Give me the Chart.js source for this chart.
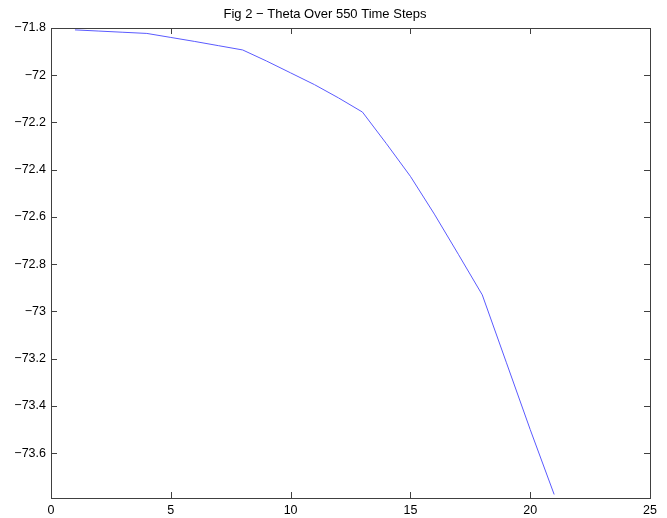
<!DOCTYPE html>
<html>
<head>
<meta charset="utf-8">
<script src="https://cdn.jsdelivr.net/npm/chart.js@4"></script>
<style>
  html, body { margin: 0; padding: 0; background: #fff; }
  #wrap { width: 667px; height: 518px; }
</style>
</head>
<body>
<div id="wrap"><canvas id="thetaChart" width="667" height="518"></canvas></div>
<script>
// time step index (x) and theta (y)
const steps = [1, 2, 3, 4, 5, 6, 7, 8, 9, 10, 11, 12, 13, 14, 15, 16, 17, 18, 19, 20, 21];
const theta = [-71.808, -71.813, -71.818, -71.823, -71.840, -71.857, -71.875, -71.893,
               -71.940, -71.990, -72.040, -72.096, -72.156, -72.290, -72.428, -72.588,
               -72.758, -72.930, -73.215, -73.500, -73.775];
const xTicks = [0, 5, 10, 15, 20, 25];
const yTicks = [-71.8, -72, -72.2, -72.4, -72.6, -72.8, -73, -73.2, -73.4, -73.6];
const titleText = 'Fig 2 \u2212 Theta Over 550 Time Steps';

const fontFamily = '"Liberation Sans", Arial, sans-serif';

// matlab style box with inward tick marks
const boxPlugin = {
    id: 'boxTicks',
    afterDraw(chart) {
        const { ctx, chartArea: a, scales } = chart;
        ctx.save();
        ctx.strokeStyle = '#404040';
        ctx.lineWidth = 1;
        ctx.strokeRect(Math.round(a.left) + 0.5, Math.round(a.top) + 0.5,
                       Math.round(a.right - a.left), Math.round(a.bottom - a.top));
        ctx.beginPath();
        const len = 6;
        xTicks.forEach(v => {
            const px = Math.round(scales.x.getPixelForValue(v)) + 0.5;
            ctx.moveTo(px, a.bottom); ctx.lineTo(px, a.bottom - len);
            ctx.moveTo(px, a.top); ctx.lineTo(px, a.top + len);
        });
        yTicks.forEach(v => {
            const py = Math.round(scales.y.getPixelForValue(v)) + 0.5;
            ctx.moveTo(a.left, py); ctx.lineTo(a.left + len, py);
            ctx.moveTo(a.right, py); ctx.lineTo(a.right - len, py);
        });
        ctx.stroke();
        ctx.restore();
    }
};

const ctx = document.getElementById('thetaChart').getContext('2d');
new Chart(ctx, {
    type: 'line',
    data: {
        datasets: [{
            data: steps.map((s, i) => ({ x: s, y: theta[i] })),
            borderColor: 'rgb(90, 90, 255)',
            borderWidth: 1,
            pointRadius: 0,
            tension: 0,
            fill: false
        }]
    },
    options: {
        responsive: false,
        animation: false,
        layout: { padding: { left: 0, right: 17, top: 0, bottom: 0 } },
        plugins: {
            legend: { display: false },
            tooltip: { enabled: false },
            title: {
                display: true,
                text: titleText,
                color: '#000',
                font: { family: fontFamily, size: 13, weight: 'normal' },
                padding: { top: 6.2, bottom: 6.2 }
            }
        },
        scales: {
            x: {
                type: 'linear',
                min: 0,
                max: 25,
                grid: { display: false, drawTicks: false },
                border: { display: false },
                afterBuildTicks: s => { s.ticks = xTicks.map(v => ({ value: v })); },
                afterFit: s => { s.height = 20; },
                ticks: {
                    color: '#000',
                    padding: 5,
                    maxRotation: 0,
                    font: { family: fontFamily, size: 12.5 },
                    callback: v => String(v)
                }
            },
            y: {
                type: 'linear',
                min: -73.79,
                max: -71.8,
                grid: { display: false, drawTicks: false },
                border: { display: false },
                afterBuildTicks: s => { s.ticks = yTicks.map(v => ({ value: v })); },
                afterFit: s => { s.width = 51; },
                ticks: {
                    color: '#000',
                    padding: 5,
                    font: { family: fontFamily, size: 12.5 },
                    callback: v => String(v).replace('-', '\u2212')
                }
            }
        }
    },
    plugins: [boxPlugin]
});
</script>
</body>
</html>
